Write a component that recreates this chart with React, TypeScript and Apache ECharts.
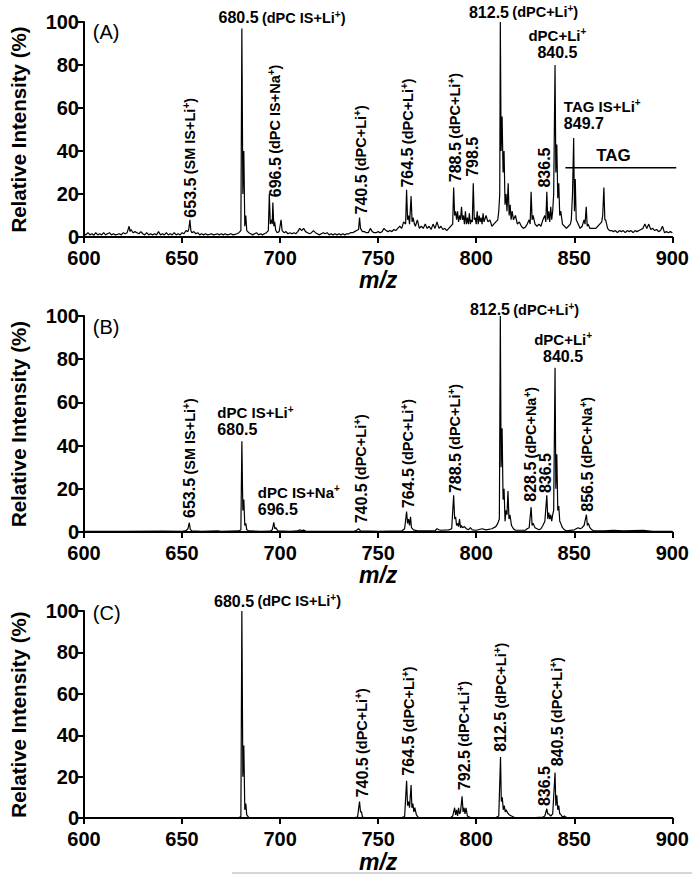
import React, { useEffect, useRef } from 'react';
import * as echarts from 'echarts';

// ---------- data ----------
const X_MIN = 600;
const X_MAX = 900;
const X_STEP = 50;
const Y_MIN = 0;
const Y_MAX = 100;
const Y_STEP = 20;
const panelLetters = ['(A)', '(B)', '(C)'];
const xAxisTitle = 'm/z';
const yAxisTitle = 'Relative Intensity (%)';

const spectrumA: [number, number][] = [
  [600,1.5],[601,1],[602,2],[603,1],[604,1.5],[605,0.8],[606,2],[607,1],[608,1.5],[609,1],[610,2],[611,1],[612,1.5],[613,2],[614,1],[615,1.5],[616,1],[617,1.2],[618,1.5],[619,1],[620,2],[621,1.5],[622,2],[623,5],[623.5,2.5],[624,3.5],[625,2],[626,2.5],[627,2],[628,1.5],[629,2.5],[630,1.5],[631,1],[632,2],[633,1],[634,1.5],[635,1],[636,1.5],[637,1],[638,2.5],[639,1],[640,1.5],[641,1],[642,2],[643,1],[644,1.5],[645,1],[646,2],[647,1],[648,1.5],[649,1],[650,2],[651,1.5],[652,3],[653,2.5],[653.5,4],[654,8],[654.5,3],[655,2],[656,2.5],[657,1.5],[658,2],[659,1],[660,1.5],[661,1],[662,1.5],[663,1],[664,1.2],[665,1.5],[666,1],[667,1.2],[668,1.5],[669,1],[670,1.5],[671,1],[672,1.5],[673,1],[674,1.2],[675,1.5],[676,1],[677,1.2],[678,1.5],[679,2],[680,3],[680.5,97],[681,20],[681.5,40],[682,5],[682.5,10],[683,3],[684,2],[685,1.5],[686,1],[687,1.5],[688,2],[689,1],[690,1.5],[691,1],[692,1.5],[693,2],[694,3],[694.5,20],[695,6],[695.5,8],[696,6],[696.3,16],[696.8,5],[697.2,7],[697.8,3],[698.5,2],[699.5,2.5],[700.5,8],[701,3],[702,2],[703,2.5],[704,1.5],[705,2],[706,1.5],[707,2],[708,1.5],[709,2.5],[710,4],[711,3],[712,4],[713,2.5],[714,2],[715,1.5],[716,2],[717,3],[718,2],[719,1.5],[720,1],[721,1.5],[722,2],[723,1.5],[724,2],[725,1],[726,1.5],[727,1],[728,1.5],[729,1],[730,1.5],[731,1],[732,1.5],[733,1],[734,1.5],[735,1.5],[736,2],[737,2],[738,2.5],[739,3],[740,3.5],[740.5,9],[741,4],[742,2.5],[743,2.5],[744,2],[745,2],[746,4],[747,2.5],[748,2],[749,2],[750,2.5],[751,2],[752,2.5],[753,4],[754,3],[755,2.5],[756,3],[757,2.5],[758,3.5],[759,3],[760,4],[761,5],[762,4],[763,7],[764,6],[764.5,22],[765,8],[765.5,10],[766,6],[766.8,19],[767.3,7],[767.8,9],[768.5,6],[769,5],[770,8],[771,4],[772,5],[773,4],[774,6],[775,4],[776,5],[777,3.5],[778,6],[779,4],[780,7],[781,4],[782,5],[783,3.5],[784,4],[785,3],[786,4],[787,5],[788,6],[788.5,23],[789,10],[789.5,12],[790,8],[790.5,12],[791,7],[791.5,10],[792,8],[792.5,14],[793,8],[793.5,10],[794,6],[794.5,12],[795,6],[795.5,9],[796,6],[796.5,11],[797,6],[797.5,8],[798,7],[798.5,25],[799,8],[799.5,9],[800,6],[800.5,12],[801,6],[801.5,10],[802,7],[802.5,9],[803,6],[803.5,11],[804,7],[805,10],[806,7],[807,8],[808,5],[809,6],[810,7],[811,8],[811.5,12],[812,20],[812.3,100],[812.7,40],[813.2,56],[813.7,30],[814.2,40],[814.7,15],[815.2,20],[815.7,12],[816.3,25],[816.8,10],[817.3,15],[817.8,8],[818.3,12],[819,8],[820,10],[821,6],[822,7],[823,5],[824,4],[825,4.5],[826,6],[827,8],[827.5,6],[828,21],[828.5,8],[829,10],[830,6],[831,5],[832,6],[833,5],[834,8],[835,10],[835.5,7],[836,21],[836.5,8],[837,12],[837.5,7],[838,14],[838.5,8],[839,12],[839.5,20],[840.2,80],[840.6,30],[841.1,43],[841.6,18],[842.1,25],[842.6,10],[843.1,12],[844,6],[845,5],[846,4],[847,5],[848,6],[848.5,8],[849.1,20],[849.7,46],[850.1,12],[850.5,27],[851,8],[852,6],[853,4],[854,5],[855,8],[855.5,6],[856.1,14],[856.6,5],[857,6],[858,4],[859,4],[860,4],[861,4],[862,5],[863,6],[864,7],[864.5,10],[865.1,23],[865.6,8],[866,8],[867,4],[868,3],[869,3],[870,2.5],[871,3],[872,2],[873,3],[874,2.5],[875,3],[876,2],[877,3],[878,2.5],[879,3],[880,2],[881,3],[882,2.5],[883,3],[884,3.5],[885,4],[886,6],[887,4],[888,6],[889,3.5],[890,4],[891,3],[892,3.5],[893,2.5],[894,3],[895,5],[896,2],[897,2.5],[898,2],[899,2.5],[900,2],
];

const spectrumB: [number, number][] = [
  [600,0.3],[620,0.3],[640,0.4],[650,0.3],[652,0.6],[653,1.5],[653.7,4.3],[654.2,1.2],[655,0.5],[660,0.3],[668,0.5],[670,0.3],[679,0.5],[680,1],[680.5,42],[681,10],[681.5,15],[682,3],[682.5,4],[683,1],[684,0.5],[690,0.3],[695,0.4],[696,1],[696.8,4.5],[697.3,1.5],[697.8,2],[698.5,1],[699,0.5],[705,0.3],[709,0.5],[710,1],[711,0.7],[712,0.9],[713,0.4],[725,0.3],[738,0.4],[739,0.8],[740,1.5],[741,0.5],[750,0.3],[762,0.5],[763.5,1.5],[764.5,9.5],[765,4],[765.5,6],[766,3],[766.5,7],[767,2],[768,1],[770,0.5],[779,0.5],[780,1.5],[781,1],[782,0.8],[786,1],[787.5,1.5],[788.5,17],[789,6],[789.5,7],[790,3],[790.5,4],[791,2.5],[791.5,6],[792,2],[792.5,3],[793,2],[794,2.5],[795,1.5],[796,1],[797,2],[798,1],[800,0.8],[803,1.5],[805,1],[808,1.5],[810,2.5],[811,4],[811.8,6],[812.3,100],[812.7,30],[813.2,48],[813.7,15],[814.2,20],[814.7,5],[815.2,10],[815.7,8],[816.2,19],[816.7,6],[817.2,8],[818,3],[819,1.5],[820,0.8],[825,0.8],[826,1.5],[827,2],[828,11.5],[828.5,3],[829,4],[830,2],[831,1.5],[832,1],[833,1.5],[834,3],[835,5],[836,17],[836.5,6],[837,9],[837.5,6],[838,8],[838.5,5],[839,8],[839.5,10],[840.2,76],[840.6,20],[841.1,36],[841.6,10],[842.1,12],[842.6,5],[843.1,4],[844,2],[845,1],[846,0.5],[850,1],[851,1.5],[852,2],[853,1.5],[854,2],[855,3],[856.2,8],[856.7,3],[857.2,4],[858,2],[859,1],[860,0.5],[865,0.5],[870,0.8],[875,0.5],[885,0.8],[890,0.3],[900,0.3],
];

const spectrumC: [number, number][] = [
  [600,0.2],[640,0.2],[670,0.2],[679,0.3],[680,0.8],[680.5,100],[681,20],[681.5,35],[682,4],[682.5,7],[683,1.5],[684,0.3],[700,0.2],[738,0.2],[739.5,0.5],[740.5,8],[741,3],[741.5,3],[742,0.5],[743,0.2],[762,0.3],[763.5,0.8],[764.5,18],[765,6],[765.5,8],[766,5],[766.8,16],[767.2,5],[767.7,7],[768.2,3],[768.7,5],[769.5,1.5],[770.5,0.3],[787,0.3],[788,1],[789,5],[789.5,1.5],[790,4],[790.5,1],[791,5],[791.5,2],[792,3],[792.8,10.5],[793.3,3],[793.8,5],[794.3,2],[794.8,5],[795.5,1],[797,0.3],[810,0.3],[811.5,1],[812.4,29.5],[812.8,8],[813.3,10],[813.8,4],[814.3,6],[814.8,3],[815.3,4],[816,2.5],[817,1.5],[818,1],[819,0.5],[820,0.3],[830,0.3],[834,0.5],[835,1],[836,4.5],[836.5,2],[837,2],[838,1],[839,2],[840.2,22],[840.6,6],[841.1,11],[841.6,4],[842.1,6],[842.6,2],[843,2],[844,0.5],[845,1],[846,0.3],[900,0.3],
];

// peak annotations: anchor in data units (m/z, %), number, ion text
type Kind = 'inline' | 'vertical' | 'vnum' | 'stackC' | 'stackL' | 'word';
type Note = { at: [number, number]; kind: Kind; num?: string; ion?: string };

const notesA: Note[] = [
  { at: [668.6, 102], kind: 'inline', num: '680.5', ion: 'dPC IS+Li' },
  { at: [654.1, 9], kind: 'vertical', num: '653.5', ion: 'SM IS+Li' },
  { at: [697.6, 18.5], kind: 'vertical', num: '696.5', ion: 'dPC IS+Na' },
  { at: [741.3, 10.5], kind: 'vertical', num: '740.5', ion: 'dPC+Li' },
  { at: [765.2, 23], kind: 'vertical', num: '764.5', ion: 'dPC+Li' },
  { at: [789.2, 25.5], kind: 'vertical', num: '788.5', ion: 'dPC+Li' },
  { at: [798.1, 28], kind: 'vnum', num: '798.5' },
  { at: [834.7, 23], kind: 'vnum', num: '836.5' },
  { at: [796.3, 104.6], kind: 'inline', num: '812.5', ion: 'dPC+Li' },
  { at: [841.4, 82], kind: 'stackC', num: '840.5', ion: 'dPC+Li' },
  { at: [844.7, 49], kind: 'stackL', num: '849.7', ion: 'TAG IS+Li' },
  { at: [870, 38], kind: 'word', ion: 'TAG' },
];
const tagRangeA: [number, number, number] = [845.5, 902, 32.2];

const notesB: Note[] = [
  { at: [654, 6.5], kind: 'vertical', num: '653.5', ion: 'SM IS+Li' },
  { at: [668, 43.5], kind: 'stackL', num: '680.5', ion: 'dPC IS+Li' },
  { at: [688.6, 6.5], kind: 'stackL', num: '696.5', ion: 'dPC IS+Na' },
  { at: [741.3, 4], kind: 'vertical', num: '740.5', ion: 'dPC+Li' },
  { at: [765.4, 11], kind: 'vertical', num: '764.5', ion: 'dPC+Li' },
  { at: [789.2, 18], kind: 'vertical', num: '788.5', ion: 'dPC+Li' },
  { at: [796.8, 102.8], kind: 'inline', num: '812.5', ion: 'dPC+Li' },
  { at: [844.3, 77.5], kind: 'stackC', num: '840.5', ion: 'dPC+Li' },
  { at: [827.8, 14], kind: 'vertical', num: '828.5', ion: 'dPC+Na' },
  { at: [835.4, 18], kind: 'vnum', num: '836.5' },
  { at: [856.6, 9.4], kind: 'vertical', num: '856.5', ion: 'dPC+Na' },
];

const notesC: Note[] = [
  { at: [666.3, 104.6], kind: 'inline', num: '680.5', ion: 'dPC IS+Li' },
  { at: [741.9, 10], kind: 'vertical', num: '740.5', ion: 'dPC+Li' },
  { at: [765.6, 20.5], kind: 'vertical', num: '764.5', ion: 'dPC+Li' },
  { at: [793.9, 13.5], kind: 'vertical', num: '792.5', ion: 'dPC+Li' },
  { at: [812.5, 32], kind: 'vertical', num: '812.5', ion: 'dPC+Li' },
  { at: [834.9, 5.8], kind: 'vnum', num: '836.5' },
  { at: [841.3, 25], kind: 'vertical', num: '840.5', ion: 'dPC+Li' },
];

const letterAt: [number, number][] = [[604.5, 95.5], [604.5, 95], [604.5, 99]];

// ---------- layout / style ----------
const FONT = '"Liberation Sans", Arial, Helvetica, sans-serif';
const grids = [
  { left: 83, top: 22, width: 590, height: 215 },
  { left: 83, top: 316, width: 590, height: 216 },
  { left: 83, top: 611, width: 590, height: 215 },
];
const rich = {
  n: { fontSize: 16, fontWeight: 'bold', fontFamily: FONT, fill: '#000', lineHeight: 17 },
  p: { fontSize: 14.5, fontWeight: 'bold', fontFamily: FONT, fill: '#000', lineHeight: 17 },
  q: { fontSize: 15, fontWeight: 'bold', fontFamily: FONT, fill: '#000', lineHeight: 17 },
  s: { fontSize: 10, fontWeight: 'bold', fontFamily: FONT, fill: '#000', lineHeight: 10, verticalAlign: 'top' },
  w: { fontSize: 17, fontWeight: 'bold', fontFamily: FONT, fill: '#000', lineHeight: 18 },
};

function noteText(n: Note): { text: string; align: string; vAlign: string; rot: number } {
  const ion = n.ion || '';
  switch (n.kind) {
    case 'inline':
      return { text: `{n|${n.num}} {p|(${ion}}{s|+}{p|)}`, align: 'left', vAlign: 'middle', rot: 0 };
    case 'vertical':
      return { text: `{n|${n.num}} {p|(${ion}}{s|+}{p|)}`, align: 'left', vAlign: 'middle', rot: Math.PI / 2 };
    case 'vnum':
      return { text: `{n|${n.num}}`, align: 'left', vAlign: 'middle', rot: Math.PI / 2 };
    case 'stackC':
      return { text: `{q|${ion}}{s|+}\n{n|${n.num}}`, align: 'center', vAlign: 'bottom', rot: 0 };
    case 'stackL':
      return { text: `{q|${ion}}{s|+}\n{n|${n.num}}`, align: 'left', vAlign: 'bottom', rot: 0 };
    default:
      return { text: `{w|${ion}}`, align: 'center', vAlign: 'middle', rot: 0 };
  }
}

export default function App() {
  const ref = useRef<HTMLDivElement>(null);
  useEffect(() => {
    if (!ref.current) return;
    const chart = echarts.init(ref.current, null, { renderer: 'svg' });
    const spectra = [spectrumA, spectrumB, spectrumC];
    const axisLabel = { fontSize: 20, fontWeight: 'bold', color: '#000', fontFamily: FONT };
    const option: any = {
      animation: false,
      backgroundColor: '#fff',
      grid: grids.map((g) => ({ ...g, containLabel: false })),
      xAxis: grids.map((_, i) => ({
        type: 'value', gridIndex: i, min: X_MIN, max: X_MAX, interval: X_STEP,
        axisLine: { show: true, lineStyle: { color: '#000', width: 2 } },
        axisTick: { show: true, length: 6, lineStyle: { color: '#000', width: 2 } },
        axisLabel: { ...axisLabel, margin: 12, lineHeight: 18 },
        splitLine: { show: false },
        name: xAxisTitle, nameLocation: 'middle', nameGap: 22,
        nameTextStyle: { fontSize: 23, fontWeight: 'bold', fontStyle: 'italic', color: '#000', fontFamily: FONT },
      })),
      yAxis: grids.map((_, i) => ({
        type: 'value', gridIndex: i, min: Y_MIN, max: Y_MAX, interval: Y_STEP,
        axisLine: { show: true, lineStyle: { color: '#000', width: 2 } },
        axisTick: { show: true, length: 6, lineStyle: { color: '#000', width: 2 } },
        axisLabel: { ...axisLabel, margin: 5, lineHeight: 16 },
        splitLine: { show: false },
        name: yAxisTitle, nameLocation: 'middle', nameGap: 55,
        nameTextStyle: { fontSize: 20.5, fontWeight: 'bold', color: '#000', fontFamily: FONT },
      })),
      series: spectra.map((d, i) => ({
        type: 'line', xAxisIndex: i, yAxisIndex: i, data: d,
        showSymbol: false, symbol: 'none',
        lineStyle: { color: '#000', width: 1.2 },
        silent: true,
      })),
    };
    chart.setOption(option);

    const elements: any[] = [];
    const allNotes = [notesA, notesB, notesC];
    allNotes.forEach((notes, gi) => {
      notes.forEach((n) => {
        const [px, py] = chart.convertToPixel({ gridIndex: gi } as any, n.at) as number[];
        const t = noteText(n);
        elements.push({
          type: 'text', x: px, y: py, rotation: t.rot, silent: true,
          style: {
            text: t.text, rich, align: t.align, verticalAlign: t.vAlign,
            textAlign: t.align, textVerticalAlign: t.vAlign,
            fontFamily: FONT, fill: '#000',
          },
        });
      });
      const [lx, ly] = chart.convertToPixel({ gridIndex: gi } as any, letterAt[gi]) as number[];
      elements.push({
        type: 'text', x: lx, y: ly, silent: true,
        style: {
          text: panelLetters[gi], fontSize: 20, fontFamily: FONT, fill: '#000',
          align: 'left', verticalAlign: 'middle', textAlign: 'left', textVerticalAlign: 'middle',
        },
      });
    });
    const p1 = chart.convertToPixel({ gridIndex: 0 } as any, [tagRangeA[0], tagRangeA[2]]) as number[];
    const p2 = chart.convertToPixel({ gridIndex: 0 } as any, [tagRangeA[1], tagRangeA[2]]) as number[];
    elements.push({
      type: 'line', silent: true,
      shape: { x1: p1[0], y1: p1[1], x2: p2[0], y2: p2[1] },
      style: { stroke: '#000', lineWidth: 1.5 },
    });
    elements.push({
      type: 'line', silent: true,
      shape: { x1: 232, y1: 873, x2: 692, y2: 873 },
      style: { stroke: '#c8c8c8', lineWidth: 1.5 },
    });
    chart.setOption({ graphic: { elements } });

    return () => chart.dispose();
  }, []);
  return (
    <div
      ref={ref}
      style={{ position: 'absolute', left: 0, top: 0, width: 692, height: 874, background: '#fff' }}
    />
  );
}
